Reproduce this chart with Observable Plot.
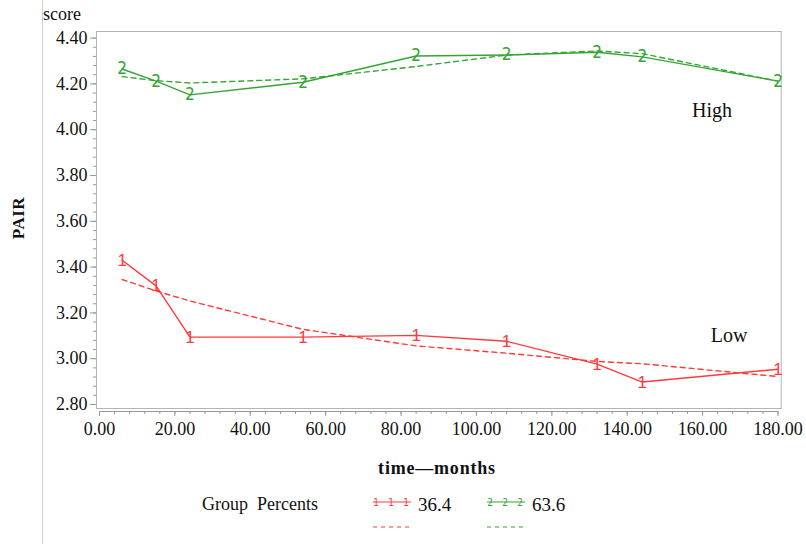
<!DOCTYPE html>
<html>
<head>
<meta charset="utf-8">
<script src="https://cdn.jsdelivr.net/npm/d3@7"></script>
<script src="https://cdn.jsdelivr.net/npm/@observablehq/plot@0.6"></script>
<style>
  html, body { margin: 0; padding: 0; background: #fff; }
  #wrap { position: relative; width: 806px; height: 544px; overflow: hidden; }
  #wrap svg { position: absolute; left: 0; top: 0; }
  #wrap svg g[aria-label$="tick label"],
  #wrap svg g[aria-label$="tick label"] text {
    font-family: "Liberation Serif", "Times New Roman", serif !important;
    font-size: 18px !important;
    fill: #111;
  }
  .lbl { position: absolute; white-space: nowrap; color: #111; }
  .times { font-family: "Liberation Serif", "Times New Roman", serif; }
  #border { position: absolute; left: 42px; top: 0; width: 1px; height: 544px; background: #d0d0d0; }
</style>
</head>
<body>
<div id="wrap">
  <div id="border"></div>
</div>
<script>
// Follow-up visits (months)
const months = [6, 15, 24, 54, 84, 108, 132, 144, 180];

// Observed mean PAIR score per trajectory group
const highObserved = [4.265, 4.212, 4.152, 4.207, 4.322, 4.326, 4.338, 4.318, 4.212];
const lowObserved  = [3.430, 3.318, 3.094, 3.094, 3.102, 3.076, 2.976, 2.898, 2.954];

// Model-predicted trajectories
const highPredicted = [4.232, 4.214, 4.204, 4.222, 4.276, 4.326, 4.344, 4.332, 4.212];
const lowPredicted  = [3.346, 3.296, 3.252, 3.128, 3.056, 3.024, 2.988, 2.978, 2.922];

// Group names, markers and shares
const groupNames = ["Low", "High"];
const groupMarks = ["1", "2"];
const groupPercents = ["36.4", "63.6"];

// Axis ticks
const yTicks = [2.8, 3.0, 3.2, 3.4, 3.6, 3.8, 4.0, 4.2, 4.4];
const xTicks = [0, 20, 40, 60, 80, 100, 120, 140, 160, 180];

const RED = "#ff3a3a";
const GREEN = "#34a534";
const tickFont = '"Liberation Serif", serif';

const rows = (vals, group) => months.map((m, i) => ({month: m, score: vals[i], group}));
const observed = [...rows(lowObserved, "Low"), ...rows(highObserved, "High")];
const predicted = [...rows(lowPredicted, "Low"), ...rows(highPredicted, "High")];
const colorOf = g => g === "Low" ? RED : GREEN;

const yMinor = d3.range(0, 41).map(i => +(2.8 + i * 0.04).toFixed(2));
const xMinor = d3.range(0, 46).map(i => i * 4);

// Group name annotations placed near the right end of each trajectory
const groupLabels = [
  {name: "High", month: 162.5, score: 4.084},
  {name: "Low", month: 167, score: 3.10}
];

const chart = Plot.plot({
  width: 806,
  height: 544,
  marginLeft: 99,
  marginRight: 28.5,
  marginTop: 37.6,
  marginBottom: 140,
  style: {fontFamily: tickFont, fontSize: "18px", color: "#111", background: "transparent"},
  x: {domain: [0, 180], axis: null, label: null},
  y: {domain: [2.8, 4.4], axis: null, label: null},
  marks: [
    Plot.frame({stroke: "#b4b4b4", insetLeft: -3, insetRight: -3.2, insetTop: -6.6, insetBottom: -4}),
    // y axis: minor then major ticks
    Plot.axisY(yMinor, {anchor: "left", tickSize: 3, dx: -3, stroke: "#9a9a9a", tickFormat: () => "", label: null}),
    Plot.axisY(yTicks, {anchor: "left", tickSize: 6, dx: -3, tickPadding: 3, stroke: "#9a9a9a", fill: "#111",
      tickFormat: d3.format(".2f"), fontSize: 18, fontFamily: tickFont, label: null}),
    // x axis: baseline, minor and major ticks
    Plot.ruleY([2.8], {dy: 7, stroke: "#9a9a9a"}),
    Plot.axisX(xMinor, {anchor: "bottom", tickSize: 3, dy: 7, stroke: "#9a9a9a", tickFormat: () => "", label: null}),
    Plot.axisX(xTicks, {anchor: "bottom", tickSize: 5, dy: 7, tickPadding: 6, stroke: "#9a9a9a", fill: "#111",
      tickFormat: d3.format(".2f"), fontSize: 18, fontFamily: tickFont, label: null}),
    // predicted (dashed) and observed (solid) trajectories
    Plot.line(predicted, {x: "month", y: "score", z: "group", stroke: d => colorOf(d.group),
      strokeWidth: 1.4, strokeDasharray: "5,4"}),
    Plot.line(observed, {x: "month", y: "score", z: "group", stroke: d => colorOf(d.group), strokeWidth: 1.4}),
    // group markers at observed means
    Plot.text(observed.filter(d => d.group === "Low"), {x: "month", y: "score", text: () => groupMarks[0],
      fill: RED, fontSize: 17, fontFamily: '"Liberation Sans", sans-serif', fontWeight: 300}),
    Plot.text(observed.filter(d => d.group === "High"), {x: "month", y: "score", text: () => groupMarks[1],
      fill: GREEN, fontSize: 17, fontFamily: '"DejaVu Sans Condensed", "DejaVu Sans", sans-serif'}),
    Plot.text(groupLabels, {x: "month", y: "score", text: "name", fill: "#111", fontSize: 20,
      fontFamily: '"Liberation Serif", serif'})
  ]
});

const wrap = document.getElementById("wrap");
wrap.appendChild(chart);

function addLabel(html, css, cls) {
  const el = document.createElement("div");
  el.className = "lbl " + cls;
  el.innerHTML = html;
  Object.assign(el.style, css);
  wrap.appendChild(el);
  return el;
}

addLabel("score", {left: "43px", top: "4px", fontSize: "18px"}, "times");
addLabel("PAIR", {left: "19px", top: "218px", fontSize: "17px", fontWeight: "bold", letterSpacing: "0.5px",
  transform: "translate(-50%, -50%) rotate(-90deg)"}, "times");
addLabel("time\u2014months", {left: "437px", top: "468px", fontSize: "18px", fontWeight: "bold", letterSpacing: "0.8px",
  transform: "translate(-50%, -50%)"}, "times");
addLabel("Group&nbsp; Percents", {left: "202px", top: "494px", fontSize: "18px"}, "times");

// Legend entries: observed line with group marker and share, predicted dashed line below
const legendX = [373, 487];
groupNames.forEach((g, i) => {
  const c = colorOf(g);
  const x0 = legendX[i];
  const ns = "http://www.w3.org/2000/svg";
  const svg = document.createElementNS(ns, "svg");
  svg.setAttribute("width", 40);
  svg.setAttribute("height", 36);
  svg.style.position = "absolute";
  svg.style.left = x0 + "px";
  svg.style.top = "494px";
  const solid = document.createElementNS(ns, "line");
  Object.entries({x1: 0, x2: 38, y1: 8, y2: 8, stroke: c, "stroke-width": 1.2}).forEach(([k, v]) => solid.setAttribute(k, v));
  svg.appendChild(solid);
  [3, 18, 33].forEach(px => {
    const t = document.createElementNS(ns, "text");
    Object.entries({x: px, y: 12, fill: c, "font-size": 10, "text-anchor": "middle",
      "font-family": "DejaVu Sans Condensed, DejaVu Sans, sans-serif"}).forEach(([k, v]) => t.setAttribute(k, v));
    t.textContent = groupMarks[i];
    svg.appendChild(t);
  });
  const dash = document.createElementNS(ns, "line");
  Object.entries({x1: 0, x2: 38, y1: 33, y2: 33, stroke: c, "stroke-width": 1.2, "stroke-dasharray": "4,4"}).forEach(([k, v]) => dash.setAttribute(k, v));
  svg.appendChild(dash);
  wrap.appendChild(svg);
  addLabel(groupPercents[i], {left: (x0 + 45) + "px", top: "494px", fontSize: "19px"}, "times");
});
</script>
</body>
</html>
